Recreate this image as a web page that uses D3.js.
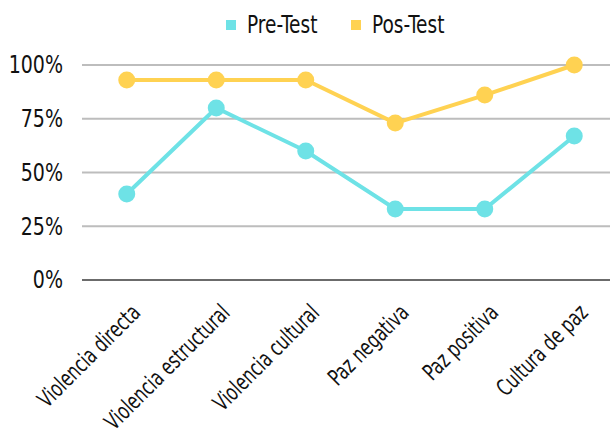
<!DOCTYPE html>
<html>
<head>
<meta charset="utf-8">
<script src="https://cdn.jsdelivr.net/npm/d3@7"></script>
<style>
  body { margin: 0; background: #fff; }
  text { font-family: "DejaVu Sans Condensed", "DejaVu Sans", sans-serif; font-stretch: condensed; fill: #111; }
</style>
</head>
<body>
<div id="chart"></div>
<script>
// Chart data
const categories = ["Violencia directa", "Violencia estructural", "Violencia cultural", "Paz negativa", "Paz positiva", "Cultura de paz"];
const preTest = [40, 80, 60, 33, 33, 67];
const posTest = [93, 93, 93, 73, 86, 100];
const yTicks = [0, 25, 50, 75, 100];
const seriesNames = ["Pre-Test", "Pos-Test"];

function drawChart() {
    const W = 610, H = 428;
    const colors = {"Pre-Test": "#6ee2e6", "Pos-Test": "#ffd252"};

    const svg = d3.select("#chart").append("svg")
        .attr("width", W)
        .attr("height", H);

    // Scales
    const x = d3.scaleBand()
        .domain(categories)
        .range([82, 619]);

    const y = d3.scaleLinear()
        .domain([0, 100])
        .range([280, 65]);

    // Gridlines
    svg.append("g")
        .selectAll("line")
        .data(yTicks)
        .enter()
        .append("line")
        .attr("x1", 82)
        .attr("x2", W)
        .attr("y1", d => y(d))
        .attr("y2", d => y(d))
        .attr("stroke", d => d === 0 ? "#6b6b6b" : "#bdbdbd")
        .attr("stroke-width", 2);

    // Y tick labels (squeezed to look condensed)
    svg.append("g")
        .selectAll("text")
        .data(yTicks)
        .enter()
        .append("text")
        .attr("transform", d => `translate(63,${y(d)}) scale(0.88,1)`)
        .attr("dy", "0.35em")
        .attr("text-anchor", "end")
        .style("font-size", "24px")
        .text(d => d + "%");

    // X labels, rotated and squeezed a bit
    svg.append("g")
        .selectAll("text")
        .data(categories)
        .enter()
        .append("text")
        .attr("transform", d => `translate(${x(d) + x.bandwidth() / 2 + 15},${314}) rotate(-45) scale(0.78,1)`)
        .attr("text-anchor", "end")
        .style("font-size", "23px")
        .text(d => d);

    // Lines and markers
    const series = [
        {name: "Pre-Test", values: preTest},
        {name: "Pos-Test", values: posTest}
    ];

    const line = d3.line()
        .x((d, i) => x(categories[i]) + x.bandwidth() / 2)
        .y(d => y(d));

    series.forEach(s => {
        svg.append("path")
            .datum(s.values)
            .attr("d", line)
            .attr("fill", "none")
            .attr("stroke", colors[s.name])
            .attr("stroke-width", 4);

        svg.selectAll(".dot-" + s.name)
            .data(s.values)
            .enter()
            .append("circle")
            .attr("cx", (d, i) => x(categories[i]) + x.bandwidth() / 2)
            .attr("cy", d => y(d))
            .attr("r", 8.5)
            .attr("fill", colors[s.name]);
    });

    // Legend
    const legendX = [226, 351];
    const legend = svg.append("g");
    seriesNames.forEach((name, i) => {
        legend.append("rect")
            .attr("x", legendX[i])
            .attr("y", 20)
            .attr("width", 10)
            .attr("height", 10)
            .attr("fill", colors[name]);
        legend.append("text")
            .attr("transform", `translate(${legendX[i] + 21},25) scale(0.86,1)`)
            .attr("dy", "0.35em")
            .style("font-size", "24px")
            .text(name);
    });
}

drawChart();
</script>
</body>
</html>
